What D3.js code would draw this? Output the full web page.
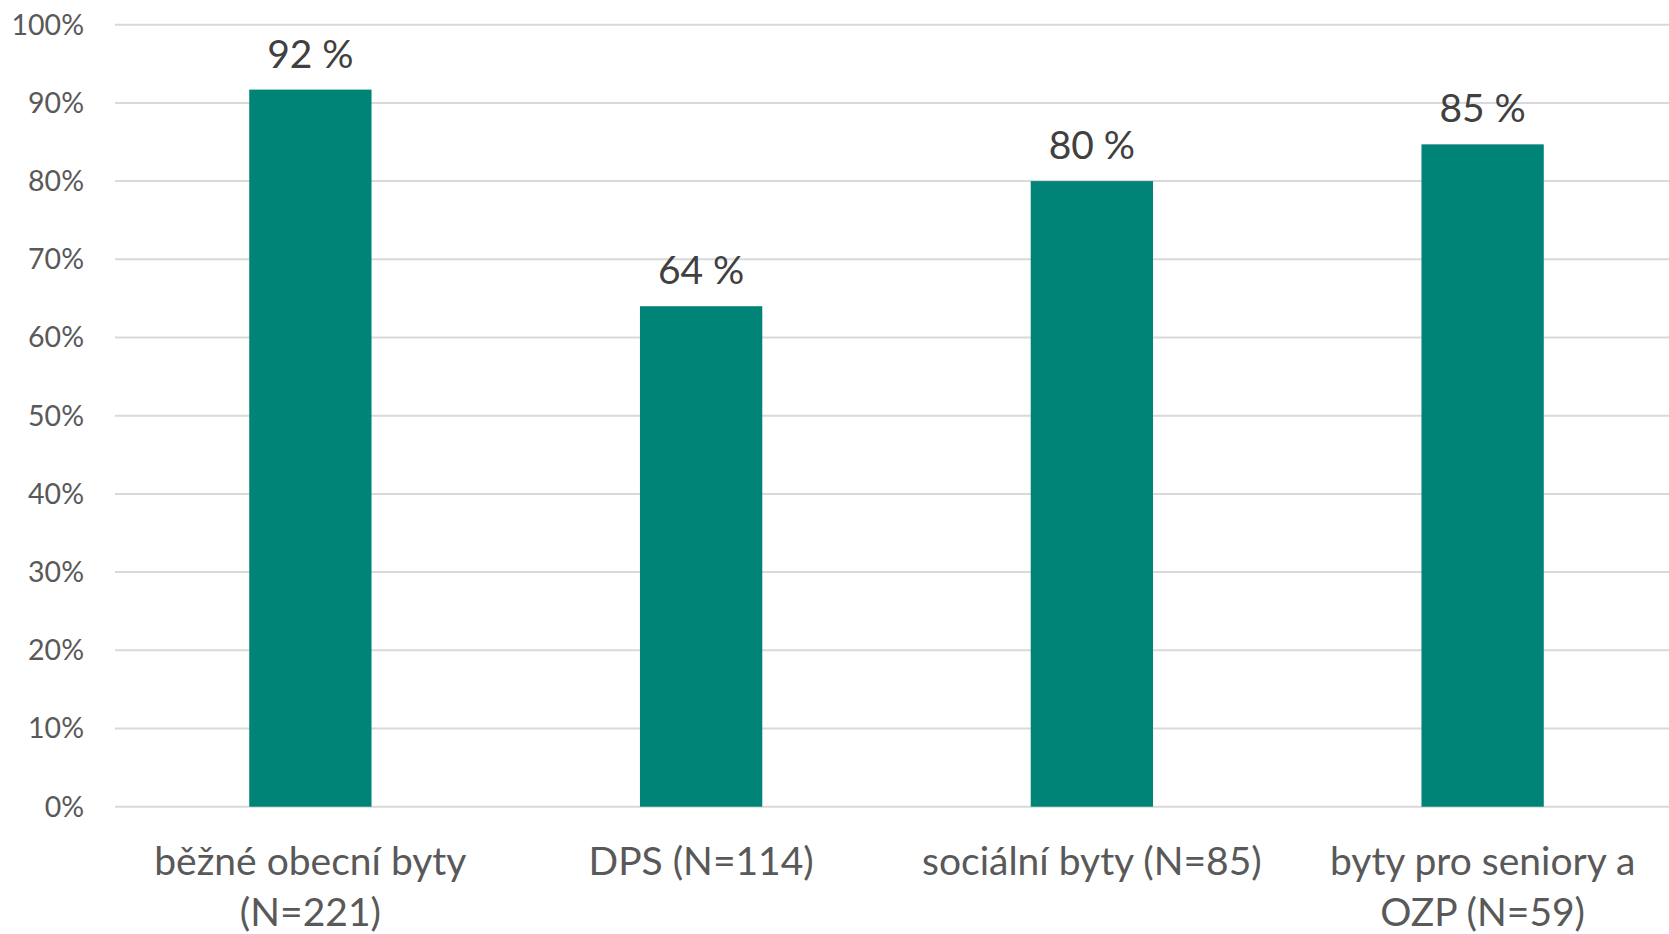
<!DOCTYPE html>
<html>
<head>
<meta charset="utf-8">
<script src="https://cdn.jsdelivr.net/npm/d3@7"></script>
<style>
  html, body { margin: 0; padding: 0; background: #fff; }
  svg { display: block; }
</style>
</head>
<body>
<div id="chart"></div>
<script>
// data (bar heights; labels are rounded)
const categories = [
  ["běžné obecní byty", "(N=221)"],
  ["DPS (N=114)"],
  ["sociální byty (N=85)"],
  ["byty pro seniory a", "OZP (N=59)"]
];
const values = [91.7, 64, 80, 84.7];
const yTicks = [0, 10, 20, 30, 40, 50, 60, 70, 80, 90, 100];

const WIDTH = 1669;
const HEIGHT = 934;
const FONT = "Lato, 'Open Sans', sans-serif";

const svg = d3.select("#chart")
  .append("svg")
  .attr("width", WIDTH)
  .attr("height", HEIGHT);

// plot area runs a little past the right edge, like the source
const x = d3.scaleBand()
  .domain(d3.range(values.length))
  .range([115, 1678])
  .paddingInner(0.687)
  .paddingOuter(0.3435);

const y = d3.scaleLinear()
  .domain([0, 100])
  .range([806.7, 24.7]);

// gridlines
svg.append("g")
  .selectAll("line")
  .data(yTicks)
  .enter()
  .append("line")
  .attr("x1", 115)
  .attr("x2", 1678)
  .attr("y1", d => y(d))
  .attr("y2", d => y(d))
  .attr("stroke", "#d9d9d9")
  .attr("stroke-width", 2);

// y tick labels
svg.append("g")
  .selectAll("text")
  .data(yTicks)
  .enter()
  .append("text")
  .attr("x", 84)
  .attr("y", d => y(d))
  .attr("dy", "0.35em")
  .attr("text-anchor", "end")
  .attr("font-family", FONT)
  .attr("font-size", 28.5)
  .attr("fill", "#595959")
  .text(d => d + "%");

// bars
svg.append("g")
  .selectAll("rect")
  .data(values)
  .enter()
  .append("rect")
  .attr("x", (d, i) => x(i))
  .attr("width", x.bandwidth())
  .attr("y", d => y(d))
  .attr("height", d => y(0) - y(d))
  .attr("fill", "#008477");

// value labels
svg.append("g")
  .selectAll("text")
  .data(values)
  .enter()
  .append("text")
  .attr("x", (d, i) => x(i) + x.bandwidth() / 2)
  .attr("y", d => y(d) - 22)
  .attr("text-anchor", "middle")
  .attr("font-family", FONT)
  .attr("font-size", 39)
  .attr("fill", "#404040")
  .text(d => Math.round(d) + " %");

// category labels (wrapped like in the source)
const cat = svg.append("g")
  .selectAll("text")
  .data(categories)
  .enter()
  .append("text")
  .attr("text-anchor", "middle")
  .attr("font-family", FONT)
  .attr("font-size", 39)
  .attr("fill", "#595959");

cat.selectAll("tspan")
  .data((d, i) => d.map(line => ({ line, i })))
  .enter()
  .append("tspan")
  .attr("x", d => x(d.i) + x.bandwidth() / 2)
  .attr("y", (d, j) => 875 + j * 51)
  .text(d => d.line);
</script>
</body>
</html>
